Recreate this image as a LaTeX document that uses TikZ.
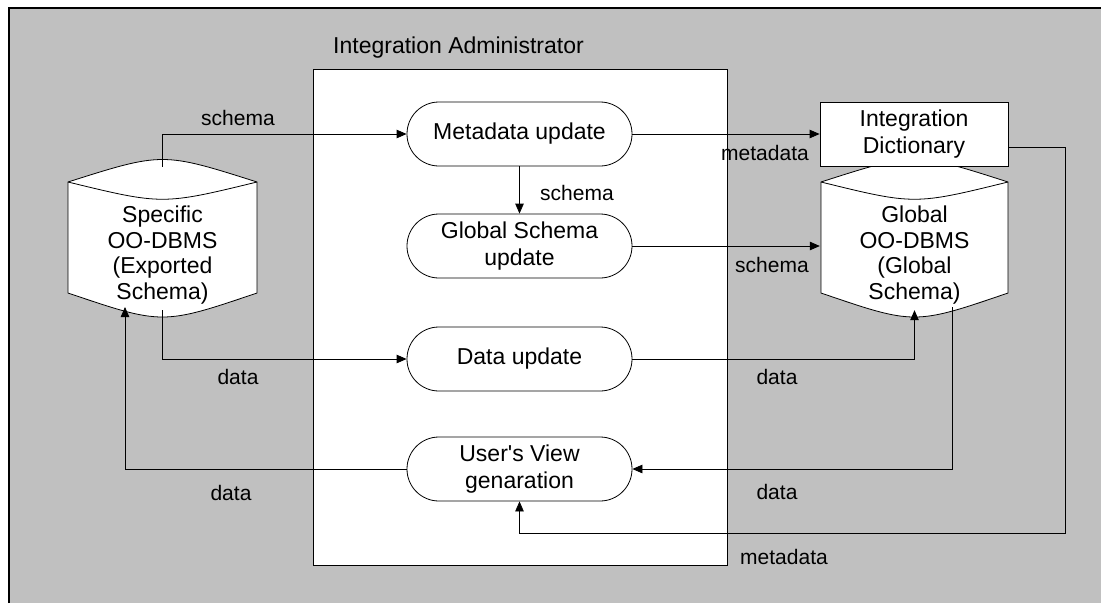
\documentclass[tikz,border=0pt]{standalone}
\usepackage{fontspec}
\setmainfont{Liberation Sans}
\usetikzlibrary{arrows.meta,calc}
\definecolor{bggray}{RGB}{192,192,192}

\begin{document}
\begin{tikzpicture}[x=1pt,y=-1pt,
  proc/.style={draw,fill=white,line width=0.8pt,rounded corners=31.9pt,minimum width=225pt,minimum height=64pt,inner sep=0pt,align=center,font=\fontsize{23}{26.5}\selectfont},
  dbbox/.style={minimum width=189pt,minimum height=143pt,inner sep=0pt},
  dbtext/.style={align=center,inner sep=0pt,font=\fontsize{23}{25.7}\selectfont},
  lbl/.style={inner sep=0pt,font=\fontsize{21}{24}\selectfont},
  flow/.style={-{Triangle[length=10pt,width=8.5pt]},line width=0.8pt}]
\useasboundingbox (0,0) rectangle (1101,603);

% background
\fill[bggray] (8,7) rectangle (1101,603);
\draw[line width=2pt] (9,603)--(9,7.5)--(1101,7.5);

% Integration Administrator
\filldraw[fill=white,line width=0.8pt] (313,69) rectangle (727,565);
\node[dbtext] (admin) at (458.5,48) {Integration Administrator};

\node[proc] (metaupd) at (519.5,134) {Metadata update};
\node[proc] (gsupd) at (519.5,246) {Global Schema\\update};
\node[proc] (dataupd) at (519.5,359) {Data update};
\node[proc] (viewgen) at (519.5,469) {User\textquotesingle s View\\genaration};

% Specific OO-DBMS
\filldraw[fill=white,line width=0.8pt] (68,182) .. controls (162.5,152) .. (257,182) -- (257,293) .. controls (162.5,325) .. (68,293) -- cycle;
\draw[line width=0.8pt] (68,182) .. controls (162.5,205) .. (257,182);
\node[dbbox] (specdb) at (162.5,238.5) {};
\node[dbtext] (spectxt) at (162.5,255) {Specific\\OO-DBMS\\(Exported\\Schema)};
\coordinate (specbl) at (125,307);

% Global OO-DBMS
\filldraw[fill=white,line width=0.8pt] (821,182) .. controls (914.5,152) .. (1008,182) -- (1008,293) .. controls (914.5,325) .. (821,293) -- cycle;
\draw[line width=0.8pt] (821,182) .. controls (914.5,205) .. (1008,182);
\node[dbbox] (globdb) at (914.5,238.5) {};
\node[dbtext] (globtxt) at (914.5,255) {Global\\OO-DBMS\\(Global\\Schema)};
\coordinate (globbr) at (952,307);

% Integration Dictionary
\node[draw,fill=white,line width=0.8pt,minimum width=188pt,minimum height=64pt,inner sep=0pt,align=center,font=\fontsize{23}{27}\selectfont] (dict) at (914,134) {Integration\\Dictionary};
\coordinate (dictout) at ($(dict.south east)!0.3!(dict.north east)$);
\coordinate (mdcorner) at (1065,533);

% flows
\draw[flow] (specdb.north) |- (metaupd.west);
\draw[flow] (specdb.south) |- (dataupd.west);
\draw[flow] (viewgen.west) -| (specbl);
\draw[flow] (metaupd.south) -- (gsupd.north);
\draw[flow] (metaupd.east) -- (dict.west);
\draw[flow] (gsupd.east) -- (gsupd.east -| globdb.west);
\draw[flow] (dataupd.east) -| (globdb.south);
\draw[flow] (globbr) |- (viewgen.east);
\draw[flow] (dictout) -| (mdcorner) -| (viewgen.south);

% labels
\node[lbl] (l1) at (238,118) {schema};
\node[lbl] (l2) at (238,377) {data};
\node[lbl] (l3) at (231,493) {data};
\node[lbl] (l4) at (577,193) {schema};
\node[lbl] (l5) at (765,153) {metadata};
\node[lbl] (l6) at (772,265) {schema};
\node[lbl] (l7) at (777,377) {data};
\node[lbl] (l8) at (777,492) {data};
\node[lbl] (l9) at (784,557) {metadata};

\end{tikzpicture}
\end{document}
